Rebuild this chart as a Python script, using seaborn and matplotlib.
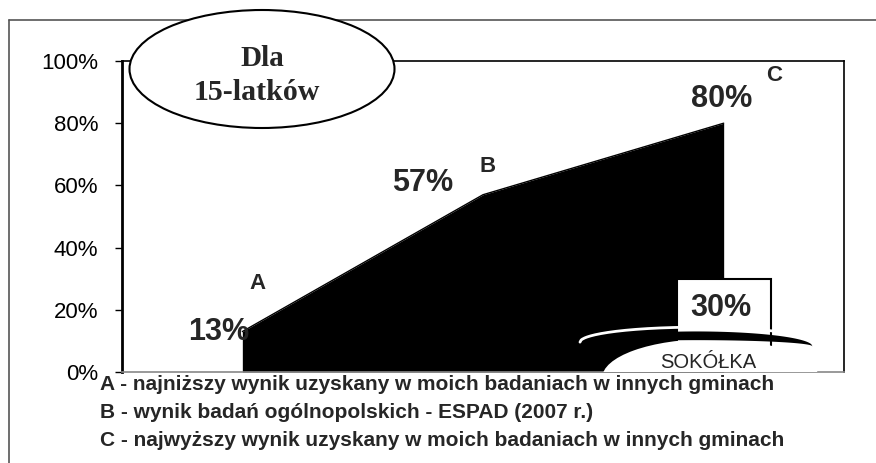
import matplotlib
matplotlib.use("Agg")
import matplotlib.pyplot as plt
import seaborn as sns
import numpy as np
import pandas as pd
from matplotlib.patches import Ellipse
from matplotlib.lines import Line2D
from matplotlib.ticker import PercentFormatter

# --- Dane ---
points = ["A", "B", "C"]
values = [13, 57, 80]
value_labels = ["13%", "57%", "80%"]
sokolka_value = 30
sokolka_label = "30%"
yticks = [0, 20, 40, 60, 80, 100]
legend_lines = [
    "A - najniższy wynik uzyskany w moich badaniach w innych gminach",
    "B - wynik badań ogólnopolskich - ESPAD (2007 r.)",
    "C - najwyższy wynik uzyskany w moich badaniach w innych gminach",
]

sns.set_theme(style="white")
plt.rcParams["font.family"] = ["Liberation Sans", "DejaVu Sans"]

W, H = 876, 463
fig = plt.figure(figsize=(W / 100, H / 100), dpi=100)
ax = fig.add_axes([122 / W, 1 - 372 / H, (844 - 122) / W, (372 - 61) / H])

df = pd.DataFrame({"x": range(len(points)), "y": values, "p": points})

# obszar (czarny)
ax.fill_between(df["x"], 0, df["y"], color="black", lw=0, zorder=2)
sns.lineplot(data=df, x="x", y="y", color="black", lw=1, ax=ax, zorder=2)

# słupek Sokółki
ax.bar(df["x"].iloc[-1], sokolka_value, width=0.39, color="white",
       edgecolor="black", linewidth=1.5, zorder=3)
ax.text(1.99, 20.6, sokolka_label, ha="center", va="center",
        fontsize=22, fontweight="bold", zorder=7)

# "wstęga" z napisem SOKÓŁKA (owal + czarny sierp nad nim)
ax.add_patch(Ellipse((1.945, -1.9), 0.9, 25, facecolor="white",
                     edgecolor="none", zorder=4))
# sierp: dwie półelipsy o wspólnych końcach
cx, a = 1.885, 0.482
xs = np.linspace(cx - a, cx + a, 200)
t = np.sqrt(np.clip(1 - ((xs - cx) / a) ** 2, 0, 1))
y_top = 8.4 + 4.8 * t
y_bot = 8.4 + 2.0 * t
ax.plot(xs, y_top + 1.2, color="white", lw=2, zorder=5,
        solid_capstyle="round")
ax.fill_between(xs, y_bot, y_top, color="black", lw=0, zorder=5)
ax.text(1.935, 3.2, "SOKÓŁKA", ha="center", va="center", fontsize=14.5,
        zorder=7)

# etykiety punktów
lab_pos = [(-0.097, 12.9), (0.751, 60.8), (1.993, 87.8)]
letter_pos = [(0.061, 28.3), (1.02, 66.2), (2.21, 95.2)]
for (lx, ly), txt in zip(lab_pos, value_labels):
    ax.text(lx, ly, txt, ha="center", va="center", fontsize=22,
            fontweight="bold", zorder=7)
for (lx, ly), txt in zip(letter_pos, points):
    ax.text(lx, ly, txt, ha="center", va="center", fontsize=16,
            fontweight="bold", zorder=7)

ax.set_xlim(-0.5, 2.5)
ax.set_ylim(0, 100)
ax.set_yticks(yticks)
ax.yaxis.set_major_formatter(PercentFormatter(decimals=0))
ax.set_xticks([])
ax.set_xlabel("")
ax.set_ylabel("")
ax.tick_params(axis="y", left=True, length=5, width=1, color="black",
               labelsize=16, pad=12, labelcolor="black")
for s in ax.spines.values():
    s.set_color("black")
    s.set_linewidth(1.2)
ax.spines["left"].set_linewidth(2)
ax.spines["bottom"].set_color("#888888")

# ramka zewnętrzna
fig.add_artist(Line2D([9 / W, 1], [1 - 20 / H, 1 - 20 / H], color="#555555", lw=1.2))
fig.add_artist(Line2D([9 / W, 9 / W], [0, 1 - 20 / H], color="#555555", lw=1.2))

# owal z tytułem
fig.add_artist(Ellipse((262 / W, 1 - 69 / H), 265 / W, 118 / H,
                       transform=fig.transFigure, facecolor="white",
                       edgecolor="black", lw=1.5, zorder=10))
fig.text(262 / W, 1 - 58 / H, "Dla", ha="center", va="center", fontsize=21,
         fontweight="bold", family=["Liberation Serif"], zorder=11)
fig.text(257 / W, 1 - 93 / H, "15-latków", ha="center", va="center",
         fontsize=21.5, fontweight="bold", family=["Liberation Serif"], zorder=11)

# legenda pod wykresem
for i, line in enumerate(legend_lines):
    fig.text(100 / W, 1 - (384 + 28 * i) / H, line, ha="left", va="center",
             fontsize=15, fontweight="bold")

fig.savefig("out.png", dpi=100)
